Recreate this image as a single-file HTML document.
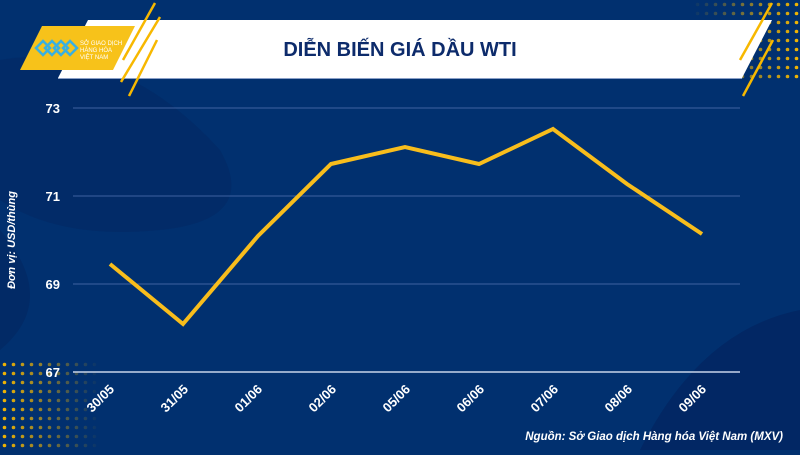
<!DOCTYPE html>
<html><head><meta charset="utf-8"><style>
body{margin:0;width:800px;height:450px;overflow:hidden;background:#01306f;font-family:"Liberation Sans",sans-serif}
</style></head><body>
<svg width="800" height="450" viewBox="0 0 800 450" xmlns="http://www.w3.org/2000/svg">
<defs>
<pattern id="dots" width="9" height="9" patternUnits="userSpaceOnUse"><circle cx="4.5" cy="4.5" r="1.8" fill="#f7b800"/></pattern>
<linearGradient id="fadeL" x1="0" x2="1"><stop offset="0" stop-color="#fff" stop-opacity="1"/><stop offset="1" stop-color="#fff" stop-opacity="0"/></linearGradient>
<mask id="mL"><rect x="0" y="360" width="100" height="90" fill="url(#fadeL)"/></mask>
<linearGradient id="fadeR" x1="1" x2="0"><stop offset="0" stop-color="#fff"/><stop offset="1" stop-color="#fff" stop-opacity="0"/></linearGradient>
<mask id="mR"><rect x="690" y="0" width="110" height="80" fill="url(#fadeR)"/></mask>
</defs>
<rect width="800" height="450" fill="#01306f"/>
<path d="M0 60 Q120 40 220 150 Q260 220 160 230 Q60 240 0 200Z" fill="#022a66" opacity="0.8"/>
<path d="M640 450 Q700 330 800 310 L800 450Z" fill="#022764"/>
<path d="M0 230 Q60 300 0 350Z" fill="#022a66"/>
<rect x="0" y="360" width="100" height="90" fill="url(#dots)" mask="url(#mL)"/>
<rect x="690" y="0" width="110" height="80" fill="url(#dots)" mask="url(#mR)"/>
<polygon points="88,20 772,20 742,78 58,78" fill="#fff"/>
<line x1="58" y1="78.5" x2="742" y2="78.5" stroke="#8aa0c8" stroke-width="1"/>
<polygon points="42,26 135,26 113,70 20,70" fill="#f7c21a"/>
<g stroke="#3ab0e0" stroke-width="2.5" fill="none">
<path d="M36 48 l7-7 7 7-7 7z M45 48 l7-7 7 7-7 7z M54 48 l7-7 7 7-7 7z M63 48 l7-7 7 7-7 7z"/>
</g>
<text x="80" y="45" font-size="6" fill="#fff">SỞ GIAO DỊCH</text>
<text x="80" y="52" font-size="6" fill="#fff">HÀNG HÓA</text>
<text x="80" y="59" font-size="6" fill="#fff">VIỆT NAM</text>
<g stroke="#f7b800" stroke-width="2.5">
<line x1="155" y1="3" x2="123" y2="60"/><line x1="160" y1="17" x2="121" y2="82"/><line x1="157" y1="40" x2="129" y2="96"/>
<line x1="772" y1="3" x2="740" y2="60"/><line x1="773" y1="40" x2="743" y2="96"/>
</g>
<text x="400" y="56" font-size="20" font-weight="bold" fill="#0d2b6b" text-anchor="middle">DIỄN BIẾN GIÁ DẦU WTI</text>
<g stroke="#3f62a0" stroke-width="1">
<line x1="73" y1="108" x2="740" y2="108"/><line x1="73" y1="196" x2="740" y2="196"/><line x1="73" y1="284" x2="740" y2="284"/>
</g>
<line x1="73" y1="372" x2="740" y2="372" stroke="#c8d4ea" stroke-width="1.5"/>
<g font-size="13" font-weight="bold" fill="#fff" text-anchor="end">
<text x="60" y="113">73</text><text x="60" y="201">71</text><text x="60" y="289">69</text><text x="60" y="377">67</text>
</g>
<text transform="translate(15,240) rotate(-90)" font-size="11" font-style="italic" font-weight="bold" fill="#fff" text-anchor="middle">Đơn vị: USD/thùng</text>
<polyline points="110,264 183,324 258,236 331,164 405,147 479,164 553,129 627,184 702,234" fill="none" stroke="#f8bd1c" stroke-width="4" stroke-linejoin="miter"/>
<g font-size="13" font-weight="bold" fill="#fff" text-anchor="end">
<text transform="translate(115,390) rotate(-45)">30/05</text>
<text transform="translate(189,390) rotate(-45)">31/05</text>
<text transform="translate(263,390) rotate(-45)">01/06</text>
<text transform="translate(337,390) rotate(-45)">02/06</text>
<text transform="translate(411,390) rotate(-45)">05/06</text>
<text transform="translate(485,390) rotate(-45)">06/06</text>
<text transform="translate(559,390) rotate(-45)">07/06</text>
<text transform="translate(633,390) rotate(-45)">08/06</text>
<text transform="translate(707,390) rotate(-45)">09/06</text>
</g>
<text x="783" y="440" font-size="11.5" font-style="italic" font-weight="bold" fill="#fff" text-anchor="end">Nguồn: Sở Giao dịch Hàng hóa Việt Nam (MXV)</text>
</svg>
</body></html>
